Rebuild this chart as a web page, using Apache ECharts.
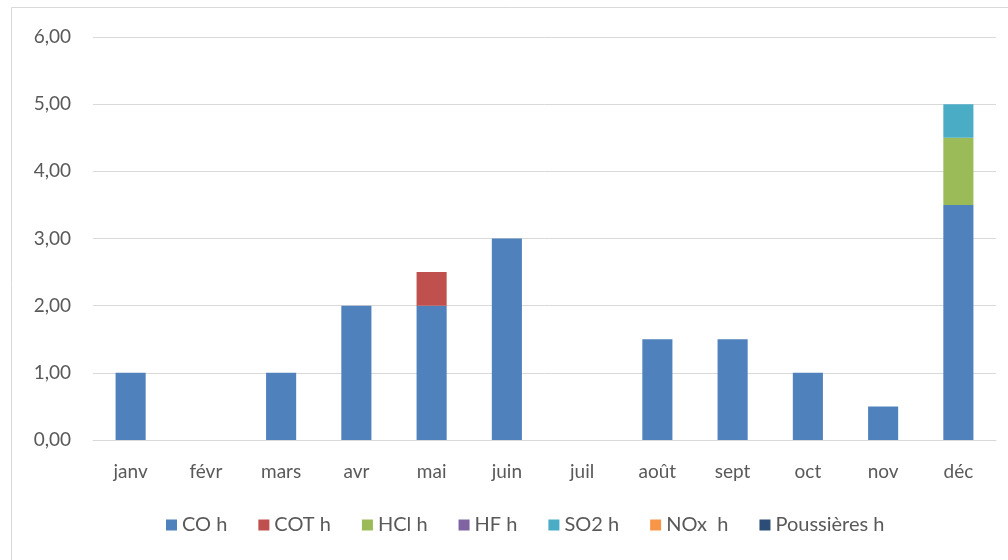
<!DOCTYPE html>
<html>
<head>
<meta charset="utf-8">
<script src="https://cdn.jsdelivr.net/npm/echarts@6/dist/echarts.min.js"></script>
<style>
  html, body { margin: 0; padding: 0; background: #fff; }
  #chart { width: 1008px; height: 560px; }
</style>
</head>
<body>
<div id="chart"></div>
<script>
var months = ["janv", "févr", "mars", "avr", "mai", "juin", "juil", "août", "sept", "oct", "nov", "déc"];
var seriesNames = ["CO h", "COT h", "HCl h", "HF h", "SO2 h", "NOx  h", "Poussières h"];
var coH = [1, 0, 1, 2, 2, 3, 0, 1.5, 1.5, 1, 0.5, 3.5];
var cotH = [0, 0, 0, 0, 0.5, 0, 0, 0, 0, 0, 0, 0];
var hclH = [0, 0, 0, 0, 0, 0, 0, 0, 0, 0, 0, 1];
var hfH = [0, 0, 0, 0, 0, 0, 0, 0, 0, 0, 0, 0];
var so2H = [0, 0, 0, 0, 0, 0, 0, 0, 0, 0, 0, 0.5];
var noxH = [0, 0, 0, 0, 0, 0, 0, 0, 0, 0, 0, 0];
var poussieresH = [0, 0, 0, 0, 0, 0, 0, 0, 0, 0, 0, 0];
var colors = ["#4f81bd", "#c0504d", "#9bbb59", "#8064a2", "#4bacc6", "#f79646", "#2c4d75"];

var allData = [coH, cotH, hclH, hfH, so2H, noxH, poussieresH];
var series = seriesNames.map(function (name, i) {
    return {
        name: name,
        type: "bar",
        stack: "total",
        barWidth: "40%",
        data: allData[i],
        itemStyle: { color: colors[i] }
    };
});

var chart = echarts.init(document.getElementById("chart"));
chart.setOption({
    animation: false,
    textStyle: { fontFamily: "Lato" },
    graphic: [{
        type: "rect",
        shape: { x: 11.5, y: 7.5, width: 1100, height: 700 },
        style: { fill: "none", stroke: "#d9d9d9", lineWidth: 1 },
        silent: true
    }],
    grid: { left: 93, right: 12, top: 37, bottom: 120 },
    legend: {
        data: seriesNames,
        left: 161,
        top: 510,
        icon: "rect",
        itemWidth: 11,
        itemHeight: 11,
        itemGap: 31,
        textStyle: { color: "#595959", fontSize: 20, fontFamily: "Lato" }
    },
    xAxis: {
        type: "category",
        data: months,
        axisLine: { lineStyle: { color: "#d9d9d9" } },
        axisTick: { show: false },
        axisLabel: { color: "#595959", fontSize: 19, margin: 22, fontFamily: "Lato" }
    },
    yAxis: {
        type: "value",
        min: 0,
        max: 6,
        interval: 1,
        axisLine: { show: false },
        axisTick: { show: false },
        splitLine: { lineStyle: { color: "#d9d9d9" } },
        axisLabel: {
            color: "#595959",
            fontSize: 19,
            margin: 22,
            fontFamily: "Lato",
            formatter: function (v) { return v.toFixed(2).replace(".", ","); }
        }
    },
    series: series
});
</script>
</body>
</html>
